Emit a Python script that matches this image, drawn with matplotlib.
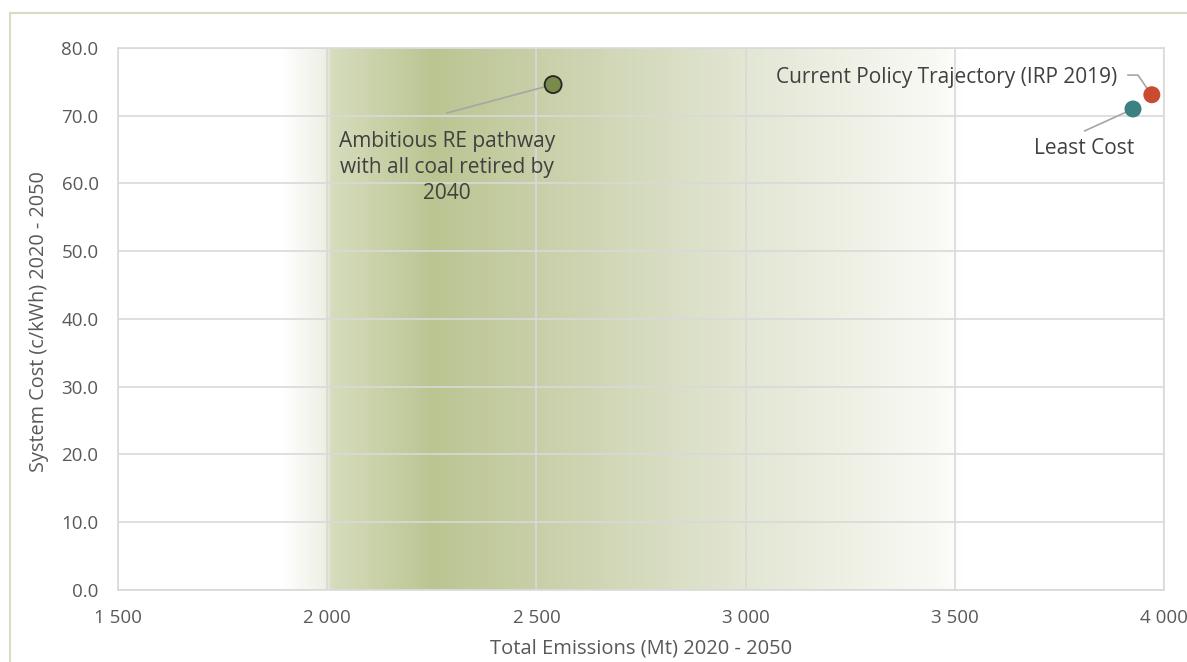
import matplotlib.pyplot as plt
import numpy as np
from matplotlib.colors import LinearSegmentedColormap
from matplotlib.patches import Rectangle

plt.rcParams['font.family'] = ['Open Sans', 'DejaVu Sans']

# données
scenarios = ["Ambitious RE pathway\nwith all coal retired by\n2040",
             "Current Policy Trajectory (IRP 2019)",
             "Least Cost"]
emissions = [2540, 3971, 3926]
system_cost = [74.6, 73.1, 71.0]
couleurs = ['#7a8a48', '#c94b32', '#3b8181']
bords = ['#262626', 'none', 'none']

x_ticks = [1500, 2000, 2500, 3000, 3500, 4000]
x_tick_labels = ["1 500", "2 000", "2 500", "3 000", "3 500", "4 000"]
y_ticks = [0, 10, 20, 30, 40, 50, 60, 70, 80]

# bande en dégradé (position, couleur)
degrade_x = [1500, 1890, 1990, 2010, 2250, 2500, 3000, 3480, 3520, 4000]
degrade_c = ['#ffffff', '#ffffff', '#eef0e4', '#d6dcbc', '#bbc592', '#c8cfa8',
             '#e2e6d3', '#fafaf6', '#ffffff', '#ffffff']

fig = plt.figure(figsize=(11.87, 6.62), dpi=100)
ax = fig.add_axes([0.0994, 0.1088, 0.8812, 0.8187])

# cadre extérieur
fig.patches.append(Rectangle((10 / 1187, -0.1), 1.2, 1 - 13 / 662 + 0.1,
                             transform=fig.transFigure, fill=False,
                             edgecolor='#d8dcc4', linewidth=1.5))

# dégradé
pos = [(v - degrade_x[0]) / (degrade_x[-1] - degrade_x[0]) for v in degrade_x]
cmap = LinearSegmentedColormap.from_list('bande', list(zip(pos, degrade_c)))
grad = np.linspace(0, 1, 1000).reshape(1, -1)
ax.imshow(grad, cmap=cmap, aspect='auto', extent=[1500, 4000, 0, 80],
          zorder=0, interpolation='bilinear')

ax.set_xlim(1500, 4000)
ax.set_ylim(0, 80)
ax.set_xticks(x_ticks)
ax.set_xticklabels(x_tick_labels)
ax.set_yticks(y_ticks)
ax.set_yticklabels([f"{v:.1f}" for v in y_ticks])
ax.grid(True, color='#d9d9d9', linewidth=1.2, zorder=1)
ax.set_axisbelow(False)
for s in ax.spines.values():
    s.set_color('#d9d9d9')
    s.set_linewidth(1.2)
ax.tick_params(length=0, labelsize=13.5, colors='#595959')
ax.tick_params(axis='y', pad=14)
ax.tick_params(axis='x', pad=14)

ax.scatter(emissions, system_cost, s=150, c=couleurs, edgecolors=bords,
           linewidths=1.3, zorder=5, clip_on=False)

gris = '#a6a6a6'
texte = '#404040'

# Ambitious RE
ax.annotate('', xy=(emissions[0], system_cost[0]), xytext=(2286, 70.4),
            arrowprops=dict(arrowstyle='-', color=gris, lw=1.2,
                            shrinkA=0, shrinkB=5), zorder=4)
ax.text(2286, 62.4, scenarios[0], ha='center', va='center', fontsize=15,
        color=texte, linespacing=1.3, zorder=6)

# Current Policy
ax.plot([3914, 3938, emissions[1] - 12], [76.0, 76.0, system_cost[1] + 1.0],
        color=gris, lw=1.2, zorder=4)
ax.text(3888, 75.7, scenarios[1], ha='right', va='center', fontsize=15,
        color=texte, zorder=6)

# Least Cost
ax.annotate('', xy=(emissions[2], system_cost[2]), xytext=(3810, 67.75),
            arrowprops=dict(arrowstyle='-', color=gris, lw=1.2,
                            shrinkA=0, shrinkB=5), zorder=4)
ax.text(3810, 65.1, scenarios[2], ha='center', va='center', fontsize=15,
        color=texte, zorder=6)

ax.set_xlabel("Total Emissions (Mt) 2020 - 2050", fontsize=14.5, color='#595959')
ax.set_ylabel("System Cost (c/kWh) 2020 - 2050", fontsize=14.3, color='#595959')
ax.xaxis.set_label_coords(0.5, -0.09)
ax.yaxis.set_label_coords(-0.066, 0.496)

fig.savefig('out.png', dpi=100)
